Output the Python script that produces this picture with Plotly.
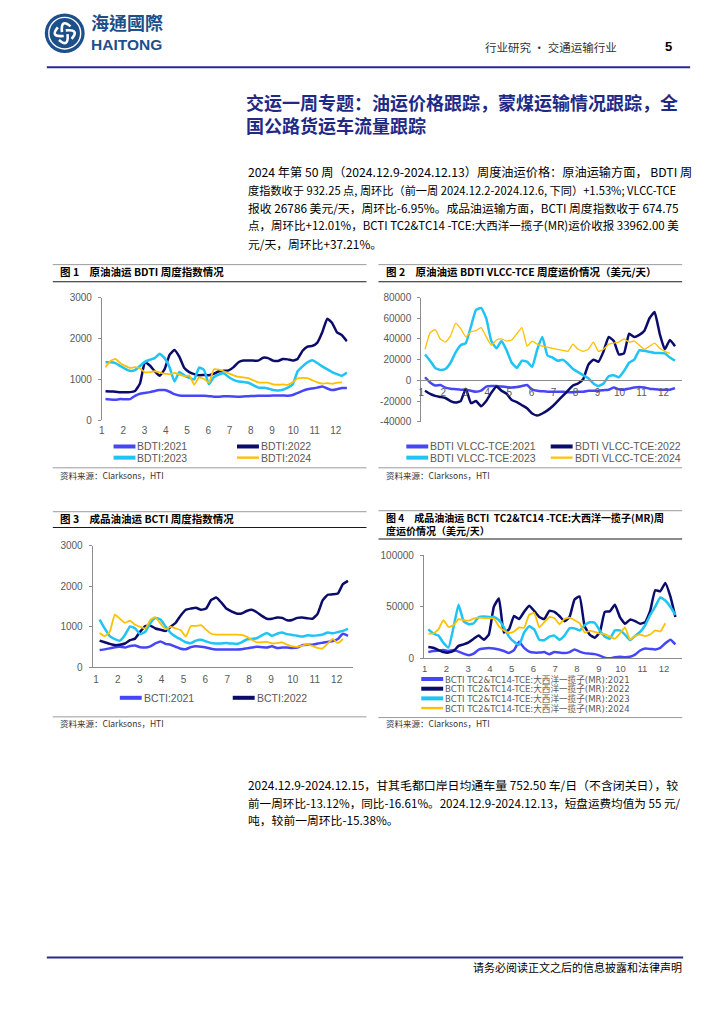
import math
import plotly.graph_objects as go

W, H = 724, 1024


def px(x):
    return x / W


def py(y):
    return 1 - y / H


# ---------------- data ----------------
WEEK = list(range(1, 51))
# week number -> position on the month axis (1 = January)
MONTH_POS = [1.17 + (w - 1) * 0.2316 for w in WEEK]
MONTHS = list(range(1, 13))
MONTH_TEXT = [str(m) for m in MONTHS]

YEARS = ["2021", "2022", "2023", "2024"]

BDTI_2021 = [520, 510, 505, 520, 515, 520, 600, 650, 670, 690, 720, 740, 740, 700, 640, 610, 600, 600, 600, 600,
             600, 590, 580, 580, 590, 590, 585, 580, 585, 590, 595, 600, 600, 600, 605, 610, 610, 600, 620, 670,
             720, 760, 780, 800, 830, 780, 740, 760, 790, 790]
BDTI_2022 = [710, 705, 700, 690, 690, 690, 720, 900, 1420, 1340, 1200, 1090, 1250, 1600, 1720, 1550, 1280, 1180, 1130, 1100,
             1110, 1100, 1140, 1200, 1210, 1220, 1300, 1420, 1460, 1460, 1460, 1460, 1530, 1520, 1460, 1450, 1500, 1490, 1460, 1500,
             1700, 1800, 1820, 1900, 2150, 2480, 2380, 2150, 2080, 1930]
BDTI_2023 = [1420, 1420, 1400, 1330, 1260, 1210, 1230, 1330, 1430, 1480, 1520, 1630, 1520, 1300, 950, 1180, 1100, 1040, 1000, 1290,
             1230, 880, 1060, 1120, 1150, 1060, 990, 950, 940, 920, 860, 800, 800, 780, 740, 730, 750, 800, 880, 1200,
             1320, 1420, 1470, 1400, 1320, 1250, 1180, 1130, 1090, 1170]
BDTI_2024 = [1300, 1450, 1500, 1400, 1330, 1280, 1300, 1270, 1170, 1180, 1200, 1170, 1140, 1130, 1160, 1120, 1080, 1100, 870, 1050,
             1010, 920, 1250, 1240, 1200, 1150, 1100, 1060, 1050, 1030, 980, 930, 920, 920, 880, 870, 880, 870, 930, 1030,
             1040, 1030, 980, 930, 900, 910, 890, 920, 930]

VLCC_2021 = [3000, -2000, -5000, -4500, -7000, -8000, -8500, -9000, -9000, -10000, -11000, -10000, -6000, -5500, -5500, -6000,
             -6500, -7000, -6500, -5500, -4500, -9000, -10000, -10500, -11000, -11000, -11000, -11000, -11500, -11500, -11000,
             -11000, -10000, -10000, -10000, -9500, -9000, -7000, -8500, -9000, -8000, -7000, -6500, -7000, -8000, -8500,
             -9000, -9000, -9000, -7500]
VLCC_2022 = [-10000, -13000, -15000, -16000, -17000, -20000, -21500, -20000, -8000, -22000, -20000, -25000, -20000, -12000,
             -6000, -10000, -13000, -19000, -21000, -24000, -27000, -32000, -34000, -32000, -29000, -25000, -20000, -15000,
             -10000, -5000, -3000, 1000, 15000, 20000, 18000, 28000, 42000, 38000, 25000, 26000, 45000, 42000, 44000, 48000,
             60000, 66000, 45000, 30000, 39000, 33000]
VLCC_2023 = [25000, 19000, 12000, 10000, 11000, 17000, 27000, 34000, 36000, 52000, 68000, 70000, 60000, 38000, 31000, 38000,
             29000, 17000, 12000, 19000, 18000, 13000, 30000, 42000, 24000, 22000, 19000, 20000, 16000, 11000, 8000, 5000,
             2000, -3000, -5500, -3000, 4000, 5000, 3000, 9000, 17000, 20000, 29000, 28500, 27500, 26500, 26500, 26000,
             22000, 19000]
VLCC_2024 = [30000, 46000, 49000, 40000, 37000, 43000, 55000, 50000, 42000, 47000, 48000, 51000, 42000, 34000, 39000, 40000,
             38000, 39000, 45000, 51000, 33000, 38000, 35000, 33000, 32000, 31000, 30000, 29000, 28000, 35000, 30000, 28000,
             30000, 37000, 28000, 30000, 35000, 36000, 37000, 40000, 37000, 38000, 34000, 30000, 33000, 36000, 31000, 28000,
             26000]

BCTI_2021 = [430, 445, 470, 500, 510, 490, 530, 540, 500, 490, 520, 590, 640, 580, 560, 510, 460, 450, 500, 520,
             510, 490, 460, 445, 445, 445, 445, 445, 450, 470, 490, 510, 500, 490, 520, 480, 490, 490, 480, 490,
             550, 560, 560, 590, 610, 630, 650, 700, 830, 780]
BCTI_2022 = [660, 620, 580, 550, 560, 590, 670, 710, 880, 1020, 1030, 960, 930, 900, 1000, 1100, 1280, 1420, 1450, 1470,
             1420, 1450, 1660, 1720, 1600, 1450, 1380, 1330, 1330, 1390, 1420, 1360, 1270, 1200, 1200, 1230, 1220, 1160, 1170, 1220,
             1230, 1210, 1200, 1320, 1650, 1790, 1800, 1820, 2050, 2130]
BCTI_2023 = [1180, 960, 770, 700, 660, 800, 1010, 960, 820, 880, 1090, 1220, 1180, 1010, 850, 760, 690, 620, 600, 660,
             680, 640, 600, 590, 590, 600, 590, 580, 620, 690, 700, 720, 790, 850, 780, 830, 860, 820, 800, 780,
             760, 790, 780, 790, 810, 860, 840, 870, 900, 950]
BCTI_2024 = [850, 770, 880, 1300, 1200, 1100, 1150, 1050, 1000, 960, 1170, 1240, 1080, 940, 1000, 960, 920, 760, 1020, 1020,
             1040, 930, 830, 810, 810, 810, 810, 810, 800, 760, 680, 620, 620, 630, 590, 600, 620, 560, 520, 510,
             540, 570, 530, 480, 470, 590, 700, 600, 700]

TC_2021 = [6000, 7000, 7500, 8000, 7000, 8000, 6500, 4500, 3000, 4500, 8500, 9500, 10000, 9500, 8500, 7000, 5000, 8000,
           16000, 10000, 6500, 5500, 5500, 6000, 4000, 6000, 5500, 5000, 6000, 8500, 6500, 5000, 4500, 4000, 2500, 500, 0,
           1000, 1500, 1000, 1500, 3500, 7500, 9500, 9000, 8500, 10000, 14500, 18000, 13500]
TC_2022 = [11000, 10200, 8000, 6000, 5500, 7000, 12000, 13500, 15500, 19000, 22000, 18000, 23000, 50000, 58000, 25000,
           28000, 41000, 38000, 45000, 51000, 46000, 40000, 38000, 46000, 45000, 41000, 36000, 40000, 57000, 60000, 31000,
           23000, 20000, 25000, 45000, 45500, 52000, 40000, 33500, 37500, 36000, 33500, 35000, 46000, 66000, 65000, 73000,
           60000, 40000]
TC_2023 = [28000, 24000, 22000, 15000, 10500, 30000, 52000, 36000, 33000, 34000, 40000, 40500, 40000, 40000, 37000, 30000,
           21000, 16000, 13000, 25000, 31000, 28000, 18000, 17500, 21000, 22000, 18000, 22000, 29000, 29000, 27000, 32000,
           35000, 34500, 27000, 21000, 19000, 27000, 27000, 23000, 17500, 21500, 25500, 32000, 42000, 50000, 59000, 56000,
           50000, 42000]
TC_2024 = [24000, 24000, 28000, 37000, 30500, 32000, 38000, 37000, 36500, 38500, 39500, 39000, 39000, 38500, 31000, 27000,
           24500, 26000, 30000, 29500, 42000, 44000, 30000, 35000, 40000, 39000, 33000, 38000, 39500, 37000, 34000, 25000,
           26500, 25500, 24000, 23500, 21000, 19000, 24000, 30000, 18000, 21500, 23000, 21500, 23000, 27000, 26000, 34000]

# ---------------- text ----------------
LOGO_CN = "海通國際"
LOGO_EN = "HAITONG"
HEADER_RIGHT = "行业研究 • 交通运输行业"
PAGE_NO = "5"
TITLE_LINES = ["交运一周专题：油运价格跟踪，蒙煤运输情况跟踪，全", "国公路货运车流量跟踪"]
BODY1 = [
    "2024 年第 50 周（2024.12.9-2024.12.13）周度油运价格：原油运输方面， BDTI 周",
    "度指数收于 932.25 点, 周环比（前一周 2024.12.2-2024.12.6, 下同）+1.53%; VLCC-TCE",
    "报收 26786 美元/天，周环比-6.95%。成品油运输方面，BCTI 周度指数收于 674.75",
    "点，周环比+12.01%，BCTI TC2&TC14 -TCE:大西洋一揽子(MR)运价收报 33962.00 美",
    "元/天，周环比+37.21%。",
]
BODY2 = [
    "2024.12.9-2024.12.15，甘其毛都口岸日均通车量 752.50 车/日（不含闭关日），较",
    "前一周环比-13.12%，同比-16.61%。2024.12.9-2024.12.13，短盘运费均值为 55 元/",
    "吨，较前一周环比-15.38%。",
]
FOOTER = "请务必阅读正文之后的信息披露和法律声明"
SOURCE = "资料来源：Clarksons，HTI"

# ---------------- styles ----------------
FONT_CJK = "Noto Sans CJK SC"
FONT_LAT = "Liberation Sans"
TICK_COLOR = "#595959"
AXIS_COLOR = "#8C8C8C"
NAVY_TEXT = "#1F2A87"
RULE = "#2A2A8E"
COLORS = {"2021": "#4646F8", "2022": "#0B0B6B", "2023": "#1FC4F4", "2024": "#FFC000"}

CHARTS = [
    dict(title=["图 1　原油油运 BDTI 周度指数情况"], title_y=269, left=56.7, frame=(50, 365, 261.7, 279, 467.3),
         src_y=475, xpx=(99.3, 346.0), xr=(1, 12.55), ypx=(295, 419.3), yr=(0, 3000),
         yt=[0, 1000, 2000, 3000], xline=False, cross=False, xfont=10, xstand=3,
         series=[BDTI_2021, BDTI_2022, BDTI_2023, BDTI_2024], prefix="BDTI:",
         widths=[2.5, 2.5, 2.5, 1.8], lfont=10.5, lfam=FONT_LAT,
         legend=[(111, 445.7), (235, 445.7), (111, 457), (235, 457)], show=[0, 1, 2, 3]),
    dict(title=["图 2　原油油运 BDTI VLCC-TCE 周度运价情况（美元/天）"], title_y=269, left=383.3,
         frame=(377, 682, 261.7, 279, 467.3),
         src_y=475, xpx=(420.0, 681.7), xr=(1, 12.83), ypx=(295, 420.7), yr=(-40000, 80000),
         yt=[-40000, -20000, 0, 20000, 40000, 60000, 80000], xline=True, cross=True, xfont=10, xstand=3,
         series=[VLCC_2021, VLCC_2022, VLCC_2023, VLCC_2024], prefix="BDTI VLCC-TCE:",
         widths=[2.5, 2.5, 2.5, 1.3], lfont=10.5, lfam=FONT_LAT,
         legend=[(405, 445.7), (550, 445.7), (405, 457), (550, 457)], show=[0, 1, 2, 3]),
    dict(title=["图 3　成品油油运 BCTI 周度指数情况"], title_y=518.5, left=56.7, frame=(50, 365, 511.7, 527.7, 719.3),
         src_y=726, xpx=(90.0, 351.5), xr=(0.85, 12.75), ypx=(546, 669.3), yr=(0, 3000),
         yt=[0, 1000, 2000, 3000], xline=True, cross=False, xfont=10, xstand=3,
         series=[BCTI_2021, BCTI_2022, BCTI_2023, BCTI_2024], prefix="BCTI:",
         widths=[2.5, 2.5, 2.5, 1.8], lfont=10.5, lfam=FONT_LAT,
         legend=[(117.3, 700), (230.7, 700)], show=[0, 1]),
    dict(title=["图 4　成品油油运 BCTI  TC2&TC14 -TCE:大西洋一揽子(MR)周", "度运价情况（美元/天）"],
         title_y=524.5, left=383.3, frame=(377, 682, 510.7, 539.3, 720),
         src_y=726, xpx=(422.7, 682.0), xr=(0.97, 12.83), ypx=(555.7, 660), yr=(0, 100000),
         yt=[0, 50000, 100000], xline=True, cross=False, xfont=9.5, xstand=1,
         series=[TC_2021, TC_2022, TC_2023, TC_2024], prefix="BCTI TC2&TC14-TCE:大西洋一揽子(MR):",
         widths=[2.5, 2.5, 2.5, 1.8], lfont=8.6, lfam="DejaVu Sans, " + FONT_CJK,
         legend=[(420, 681), (420, 690.8), (420, 700.6), (420, 710.4)], show=[0, 1, 2, 3]),
]

fig = go.Figure()
annotations = []
shapes = []
layout = {}


def text(x, y, s, size, color="#000000", bold=False, family=FONT_CJK, xanchor="left"):
    annotations.append(dict(x=px(x), y=py(y), xref="paper", yref="paper",
                            text=("<b>%s</b>" % s if bold else s), showarrow=False,
                            xanchor=xanchor, yanchor="middle", align="left", borderpad=0,
                            font=dict(family=family, size=size, color=color)))


def hline(x0, x1, y, color, width):
    shapes.append(dict(type="line", xref="paper", yref="paper", x0=px(x0), x1=px(x1),
                       y0=py(y), y1=py(y), line=dict(color=color, width=width), layer="above"))


for n, c in enumerate(CHARTS, start=1):
    sfx = "" if n == 1 else str(n)
    xd = [px(c["xpx"][0]), px(c["xpx"][1])]
    yd = [py(c["ypx"][1]), py(c["ypx"][0])]
    xa = dict(domain=xd, range=list(c["xr"]), tickvals=MONTHS, ticktext=MONTH_TEXT,
              showgrid=False, zeroline=False, showline=c["xline"], linecolor=AXIS_COLOR, linewidth=1,
              ticks="", tickfont=dict(family=FONT_LAT, size=c["xfont"], color=TICK_COLOR),
              ticklabelstandoff=c["xstand"], anchor="y" + sfx, fixedrange=True)
    if c["cross"]:
        y0v, y1v = c["yr"]
        xa["anchor"] = "free"
        xa["position"] = yd[0] + (0 - y0v) / (y1v - y0v) * (yd[1] - yd[0])
    ya = dict(domain=yd, range=list(c["yr"]), tickvals=c["yt"], ticktext=[str(v) for v in c["yt"]],
              showgrid=False, zeroline=False,
              showline=True, linecolor=AXIS_COLOR, linewidth=1, ticks="outside", ticklen=3,
              tickcolor=AXIS_COLOR, tickfont=dict(family=FONT_LAT, size=10, color=TICK_COLOR),
              ticklabelstandoff=4, anchor="x" + sfx, fixedrange=True)
    layout["xaxis" + sfx] = xa
    layout["yaxis" + sfx] = ya

    for vals, yr, wdt in zip(c["series"], YEARS, c["widths"]):
        fig.add_trace(go.Scatter(x=MONTH_POS[:len(vals)], y=vals, mode="lines",
                                 line=dict(color=COLORS[yr], width=wdt, shape="spline", smoothing=0.4),
                                 xaxis="x" + sfx, yaxis="y" + sfx, showlegend=False, hoverinfo="skip"))

    # frame, title, source
    fx0, fx1, ftop, fsub, fbot = c["frame"]
    hline(fx0, fx1, ftop, "#808080", 0.8)
    hline(fx0, fx1, fsub, "#1A1A1A", 1.2)
    hline(fx0, fx1, fbot, "#808080", 0.8)
    text(c["left"], c["title_y"], "<br>".join(c["title"]), 10.5 if len(c["title"]) == 1 else 10,
         "#000000", bold=True)
    text(c["left"], c["src_y"], SOURCE, 8.5, "#333333")

    # legend
    for k, (lx, ly) in zip(c["show"], c["legend"]):
        yr = YEARS[k]
        lw = 4 if c["widths"][k] > 2 else max(2.2, c["widths"][k] + 0.6)
        hline(lx, lx + 22, ly, COLORS[yr], lw)
        text(lx + 23, ly, c["prefix"] + yr, c["lfont"], TICK_COLOR, family=c["lfam"])

# ---------------- page furniture ----------------
# logo
LOGO_BLUE = "#1D4F8B"
cx, cy, r = 62, 27.5, 20
shapes.append(dict(type="circle", xref="paper", yref="paper", x0=px(cx - r), x1=px(cx + r),
                   y0=py(cy + r), y1=py(cy - r), fillcolor=LOGO_BLUE, line=dict(width=0)))
shapes.append(dict(type="circle", xref="paper", yref="paper", x0=px(cx - 16), x1=px(cx + 16),
                   y0=py(cy + 16), y1=py(cy - 16), line=dict(color="white", width=1.4)))
for k in range(4):
    a = math.radians(90 * k + 20)
    b = math.radians(90 * k + 75)
    e = math.radians(90 * k + 130)
    p0 = (cx + 3 * math.cos(a), cy + 3 * math.sin(a))
    p1 = (cx + 16 * math.cos(b), cy + 16 * math.sin(b))
    p2 = (cx + 9 * math.cos(e), cy + 9 * math.sin(e))
    path = "M %f %f Q %f %f %f %f" % (px(p0[0]), py(p0[1]), px(p1[0]), py(p1[1]), px(p2[0]), py(p2[1]))
    shapes.append(dict(type="path", xref="paper", yref="paper", path=path,
                       line=dict(color="white", width=2.6)))
text(87, 25, "<span style='font-size:18px;font-family:Noto Sans CJK TC'>%s</span><br>%s" % (LOGO_CN, LOGO_EN),
     15.5, LOGO_BLUE, bold=True, family=FONT_LAT)

text(618, 41.5, HEADER_RIGHT, 11.5, "#333333", xanchor="right")
text(668, 41, PAGE_NO, 13, "#000000", bold=True, family=FONT_LAT, xanchor="center")
hline(44, 690, 62, RULE, 2)

text(243, 108.5, "<br>".join(TITLE_LINES), 18, NAVY_TEXT, bold=True)
BODY1_SIZE = [12.2, 11.2, 11.8, 11.5, 11.8]
for t, ty, fs in zip(BODY1, [168, 186, 204, 222, 240], BODY1_SIZE):
    text(245, ty, t, fs, "#000000")
BODY2_SIZE = [11.9, 11.6, 11.8]
for t, ty, fs in zip(BODY2, [788, 806, 823], BODY2_SIZE):
    text(245, ty, t, fs, "#000000")

hline(44, 683, 962.7, RULE, 2)
text(683, 972.5, FOOTER, 11, "#000000", xanchor="right")

fig.update_layout(
    width=W, height=H, autosize=False,
    margin=dict(l=0, r=0, t=0, b=0, pad=0),
    paper_bgcolor="white", plot_bgcolor="white",
    showlegend=False, annotations=annotations, shapes=shapes,
    **layout,
)

fig.write_html("out.html", config={"displayModeBar": False},
               post_script="document.body.style.margin='0px';")
